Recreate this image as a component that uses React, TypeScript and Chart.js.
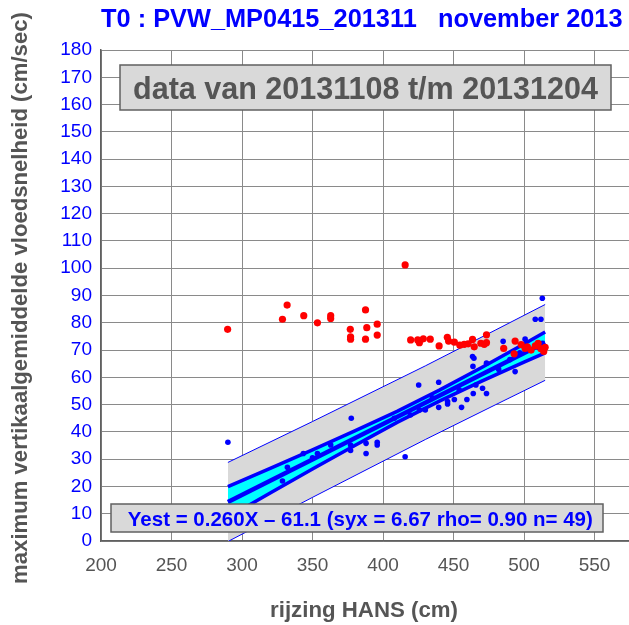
import React, { useEffect, useRef } from "react";
import { Chart, registerables } from "chart.js";

Chart.register(...registerables);

const FAMILY = '"Liberation Sans", Arial, sans-serif';

const TITLE = "T0 : PVW_MP0415_201311   november 2013";
const PERIOD = "data van 20131108 t/m 20131204";
const FORMULA = "Yest = 0.260X \u2013 61.1 (syx = 6.67 rho= 0.90 n= 49)";
const X_TITLE = "rijzing HANS (cm)";
const Y_TITLE = "maximum vertikaalgemiddelde vloedsnelheid (cm/sec)";

// regression sample (blue)
const blueX = [290, 328.7, 332.2, 343.5, 353.5, 362.9, 377, 377, 377.5, 388, 388, 395.9, 395.9, 415.7, 419.4, 425.3, 425.8, 430, 439.5, 439.5, 445.8, 445.8, 450.6, 454, 455.7, 459.5, 464, 465.9, 470.6, 473.4, 463.5, 464.5, 463.8, 473.4, 493.7, 485.2, 500.8, 513, 508, 512, 513, 408, 435, 482, 490, 497, 505, 510, 350];
const blueY = [36.2, 22.0, 27.0, 32.1, 32.1, 35.2, 33.2, 35.2, 45.0, 35.8, 32.1, 36.2, 35.2, 30.9, 46.2, 57.2, 48.0, 48.0, 58.2, 49.0, 51.1, 50.2, 51.9, 55.4, 49.0, 51.9, 54.1, 57.2, 56.0, 54.1, 67.6, 67.0, 64.0, 65.2, 62.1, 73.2, 74.0, 72.5, 81.3, 81.3, 89.0, 45.0, 52.5, 63.0, 66.5, 69.0, 70.0, 71.0, 30.5];

// other observations (red)
const redX = [289.8, 328.7, 332, 343.8, 353.5, 362.9, 362.9, 376.8, 377, 377, 387.6, 388.5, 387.6, 395.9, 395.9, 415.7, 419.6, 424.6, 425.8, 428.6, 433.5, 439.8, 445.6, 446.5, 450.6, 454.5, 457.6, 460.4, 463.5, 464.7, 469.4, 471.8, 473.4, 473.4, 485.6, 493.7, 493, 500.8, 502.4, 505, 508, 510, 512, 514, 515, 498];
const redY = [77.6, 81.3, 86.5, 82.6, 80.0, 82.6, 81.6, 77.6, 74.8, 74.0, 84.7, 78.2, 74.0, 79.5, 75.5, 101.2, 73.7, 73.7, 72.7, 74.1, 74.0, 71.5, 74.7, 73.3, 72.9, 71.8, 72.1, 72.3, 73.9, 71.2, 72.5, 72.1, 75.6, 72.7, 70.6, 73.3, 68.6, 70.6, 71.2, 70.0, 71.5, 72.5, 70.5, 69.5, 71.0, 72.0];

// regression line
const fitX = [290, 515];
const fitY = [14.3, 72.8];

// prediction band
const predX = [290, 350, 430, 480, 515];
const predLow = [-0.2, 16.0, 37.2, 50.0, 58.9];
const predHigh = [28.8, 43.8, 64.2, 77.4, 86.7];

// confidence band
const confX = [290, 320, 350, 380, 410, 440, 470, 500, 515];
const confLow = [8.7, 17.6, 26.4, 35.0, 43.5, 51.3, 58.6, 65.6, 69.0];
const confHigh = [19.9, 26.6, 33.4, 40.4, 47.5, 55.3, 63.6, 72.2, 76.6];

const xTicksMin = 200;
const xTicksMax = 600;
const xStep = 50;
const yTicksMin = 0;
const yTicksMax = 180;
const yStep = 10;

const pts = (xs: number[], ys: number[]) => xs.map((x, i) => ({ x, y: ys[i] }));

function fitSize(ctx: CanvasRenderingContext2D, text: string, weight: string, width: number) {
  ctx.font = `${weight} 100px ${FAMILY}`;
  const w = ctx.measureText(text).width;
  return (100 * width) / w;
}

const overlay = {
  id: "overlay",
  afterDraw(chart: any) {
    const ctx: CanvasRenderingContext2D = chart.ctx;
    ctx.save();
    // title
    let s = fitSize(ctx, TITLE, "bold", 522);
    ctx.font = `bold ${s}px ${FAMILY}`;
    ctx.fillStyle = "#0000ff";
    ctx.textAlign = "left";
    ctx.textBaseline = "alphabetic";
    ctx.fillText(TITLE, 101, 27);

    // period box
    ctx.fillStyle = "#d9d9d9";
    ctx.fillRect(120, 65, 491, 45);
    ctx.strokeStyle = "#606060";
    ctx.lineWidth = 1.5;
    ctx.strokeRect(120, 65, 491, 45);
    s = fitSize(ctx, PERIOD, "bold", 465);
    ctx.font = `bold ${s}px ${FAMILY}`;
    ctx.fillStyle = "#555555";
    ctx.textAlign = "center";
    ctx.fillText(PERIOD, 365.5, 98.5);

    // formula box
    ctx.fillStyle = "#d9d9d9";
    ctx.fillRect(111, 504, 492, 28);
    ctx.strokeStyle = "#606060";
    ctx.lineWidth = 1.5;
    ctx.strokeRect(111, 504, 492, 28);
    s = fitSize(ctx, FORMULA, "bold", 465);
    ctx.font = `bold ${s}px ${FAMILY}`;
    ctx.fillStyle = "#0000ff";
    ctx.fillText(FORMULA, 360.3, 526);

    // x title
    s = fitSize(ctx, X_TITLE, "bold", 188);
    ctx.font = `bold ${s}px ${FAMILY}`;
    ctx.fillStyle = "#555555";
    ctx.fillText(X_TITLE, 364, 616.5);

    // y title
    s = fitSize(ctx, Y_TITLE, "bold", 572);
    ctx.font = `bold ${s}px ${FAMILY}`;
    ctx.translate(27, 298);
    ctx.rotate(-Math.PI / 2);
    ctx.fillText(Y_TITLE, 0, 0);
    ctx.restore();
  },
};

export default function App() {
  const ref = useRef<HTMLCanvasElement>(null);
  useEffect(() => {
    if (!ref.current) return;
    const lineBase = { pointRadius: 0, tension: 0, borderColor: "#0000ff", showLine: true };
    const chart = new Chart(ref.current, {
      type: "line",
      data: {
        datasets: [
          { ...lineBase, data: pts(predX, predLow), borderWidth: 1, fill: false, order: 9 } as any,
          { ...lineBase, data: pts(predX, predHigh), borderWidth: 1, fill: 0, backgroundColor: "#d9d9d9", order: 10 } as any,
          { ...lineBase, data: pts(confX, confLow), borderWidth: 3.5, fill: false, order: 7 } as any,
          { ...lineBase, data: pts(confX, confHigh), borderWidth: 3.5, fill: 2, backgroundColor: "#00ffff", order: 8 } as any,
          { ...lineBase, data: pts(fitX, fitY), borderWidth: 4.5, fill: false, order: 6 } as any,
          { data: pts(blueX, blueY), showLine: false, pointRadius: 2.8, pointBackgroundColor: "#0000ff", pointBorderWidth: 0, order: 5 } as any,
          { data: pts(redX, redY), showLine: false, pointRadius: 3.6, pointBackgroundColor: "#ff0000", pointBorderWidth: 0, order: 4 } as any,
        ],
      },
      options: {
        animation: false,
        responsive: false,
        devicePixelRatio: 1,
        layout: { padding: { top: 50, left: 0, right: 55, bottom: 0 } },
        plugins: { legend: { display: false }, tooltip: { enabled: false }, title: { display: false } },
        scales: {
          x: {
            type: "linear",
            min: xTicksMin,
            max: xTicksMax,
            ticks: { stepSize: xStep, color: "#555555", font: { size: 19, family: FAMILY }, padding: 13, maxRotation: 0, autoSkip: false },
            grid: { color: "#8a8a8a", lineWidth: 1, drawTicks: false },
            border: { color: "#606060", width: 1.5 },
            afterFit: (sc: any) => { sc.height = 84; },
          },
          y: {
            type: "linear",
            min: yTicksMin,
            max: yTicksMax,
            ticks: { stepSize: yStep, color: "#0000ff", font: { size: 19, family: FAMILY }, padding: 9, autoSkip: false },
            grid: { color: "#8a8a8a", lineWidth: 1, drawTicks: false },
            border: { color: "#606060", width: 1.5 },
            afterFit: (sc: any) => { sc.width = 101; },
          },
        },
      } as any,
      plugins: [overlay],
    });
    return () => chart.destroy();
  }, []);
  return (
    <div style={{ position: "fixed", left: 0, top: 0, width: 629, height: 625, overflow: "hidden", background: "#fff" }}>
      <canvas ref={ref} width={720} height={625} style={{ width: 720, height: 625, display: "block" }} />
    </div>
  );
}
